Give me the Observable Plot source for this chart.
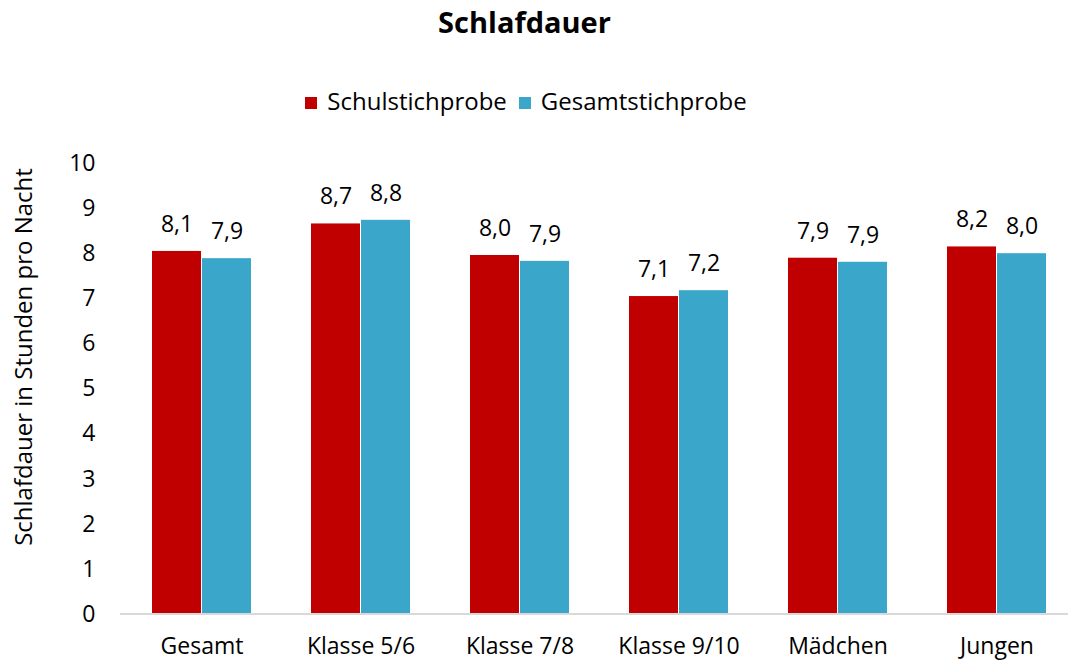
<!DOCTYPE html>
<html>
<head>
<meta charset="utf-8">
<script src="https://cdn.jsdelivr.net/npm/d3@7"></script>
<script src="https://cdn.jsdelivr.net/npm/@observablehq/plot@0.6"></script>
<style>
  html, body { margin: 0; padding: 0; background: #fff; }
  body { width: 1068px; height: 663px; position: relative; overflow: hidden; font-family: "Open Sans", sans-serif; }
  #title { position: absolute; top: 2px; left: 0; width: 1049px; text-align: center; font-size: 29px; line-height: 40px; font-weight: bold; color: #000; }
  #legend { position: absolute; top: 84px; left: 0; width: 1052px; text-align: center; font-size: 24px; line-height: 34px; color: #000; white-space: nowrap; }
  #legend span.item { display: inline-block; margin: 0 6px; }
  #legend span.sw { display: inline-block; width: 12px; height: 12px; margin-right: 10px; vertical-align: 1px; }
  #ylabel { position: absolute; left: 22px; top: 357px; transform: translate(-50%, -50%) rotate(-90deg); white-space: nowrap; font-size: 24px; color: #000; }
  #chart { position: absolute; left: 0; top: 0; }
</style>
</head>
<body>
<div id="title">Schlafdauer</div>
<div id="legend"></div>
<div id="ylabel">Schlafdauer in Stunden pro Nacht</div>
<div id="chart"></div>
<script>
const categories = ["Gesamt", "Klasse 5/6", "Klasse 7/8", "Klasse 9/10", "Mädchen", "Jungen"];
const seriesNames = ["Schulstichprobe", "Gesamtstichprobe"];
const seriesColors = ["#C00000", "#3AA6C9"];
const schulValues = [8.05, 8.66, 7.96, 7.05, 7.90, 8.15];
const gesamtValues = [7.89, 8.74, 7.83, 7.18, 7.81, 8.00];
const schulLabels = ["8,1", "8,7", "8,0", "7,1", "7,9", "8,2"];
const gesamtLabels = ["7,9", "8,8", "7,9", "7,2", "7,9", "8,0"];
const yTicks = [0, 1, 2, 3, 4, 5, 6, 7, 8, 9, 10];

const data = [];
categories.forEach((c, i) => {
  data.push({cat: c, series: seriesNames[0], value: schulValues[i], label: schulLabels[i]});
  data.push({cat: c, series: seriesNames[1], value: gesamtValues[i], label: gesamtLabels[i]});
});

// legend
const legend = document.getElementById("legend");
seriesNames.forEach((s, i) => {
  const item = document.createElement("span");
  item.className = "item";
  const sw = document.createElement("span");
  sw.className = "sw";
  sw.style.background = seriesColors[i];
  item.appendChild(sw);
  item.appendChild(document.createTextNode(s));
  legend.appendChild(item);
});

const chart = Plot.plot({
  width: 1068,
  height: 663,
  marginTop: 163,
  marginBottom: 49,
  marginLeft: 120,
  marginRight: 0,
  style: {fontFamily: '"Open Sans", sans-serif', fontSize: "23px", color: "#000", background: "transparent", overflow: "hidden"},
  fx: {domain: categories, range: [120, 1078], paddingInner: 0.35, paddingOuter: 0.175, label: null},
  x: {domain: seriesNames, padding: 0.02, axis: null},
  y: {domain: [0, 10], label: null},
  color: {domain: seriesNames, range: seriesColors},
  marks: [
    Plot.axisY({ticks: yTicks, tickSize: 0, tickPadding: 55, label: null, fontSize: 23}),
    Plot.axisFx({anchor: "bottom", tickSize: 0, tickPadding: 23, label: null, fontSize: 23}),
    Plot.barY(data, {fx: "cat", x: "series", y: "value", fill: "series"}),
    Plot.text(data, {fx: "cat", x: "series", y: "value", text: "label", dy: -27, fontSize: 23, fill: "#000"})
  ]
});
document.getElementById("chart").appendChild(chart);

// baseline across the whole plot area
d3.select(chart).append("line")
  .attr("x1", 120).attr("x2", 1068)
  .attr("y1", 614).attr("y2", 614)
  .attr("stroke", "#D9D9D9").attr("stroke-width", 2);
</script>
</body>
</html>
